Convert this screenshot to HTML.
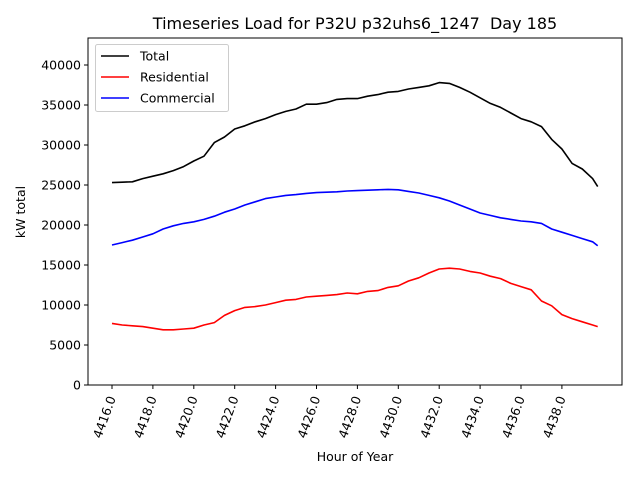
<!DOCTYPE html>
<html><head><meta charset="utf-8"><style>body{margin:0;background:#fff}svg{display:block;font-family:"DejaVu Sans","Liberation Sans",sans-serif}</style></head>
<body>
<svg id="chart" width="640" height="480" viewBox="0 0 640 480" xmlns="http://www.w3.org/2000/svg"></svg>
<script>
const hours = [4416,4416.5,4417,4417.5,4418,4418.5,4419,4419.5,4420,4420.5,4421,4421.5,4422,4422.5,4423,4423.5,4424,4424.5,4425,4425.5,4426,4426.5,4427,4427.5,4428,4428.5,4429,4429.5,4430,4430.5,4431,4431.5,4432,4432.5,4433,4433.5,4434,4434.5,4435,4435.5,4436,4436.5,4437,4437.5,4438,4438.5,4439,4439.5,4439.75];
const totalVals = [25300,25350,25400,25800,26100,26400,26800,27300,28000,28600,30300,31000,32000,32400,32900,33300,33800,34200,34500,35100,35100,35300,35700,35800,35800,36100,36300,36600,36700,37000,37200,37400,37800,37700,37200,36600,35900,35200,34700,34000,33300,32900,32300,30700,29500,27700,27000,25800,24800];
const resVals = [7700,7500,7400,7300,7100,6900,6900,7000,7100,7500,7800,8700,9300,9700,9800,10000,10300,10600,10700,11000,11100,11200,11300,11500,11400,11700,11800,12200,12400,13000,13400,14000,14500,14600,14500,14200,14000,13600,13300,12700,12300,11900,10500,9900,8800,8300,7900,7500,7300];
const comVals = [17500,17800,18100,18500,18900,19500,19900,20200,20400,20700,21100,21600,22000,22500,22900,23300,23500,23700,23800,23950,24050,24100,24150,24250,24300,24350,24400,24450,24400,24200,24000,23700,23400,23000,22500,22000,21500,21200,20900,20700,20500,20400,20200,19500,19100,18700,18300,17900,17400];
const xTicks = [4416,4418,4420,4422,4424,4426,4428,4430,4432,4434,4436,4438];
const xTickLabels = ["4416.0","4418.0","4420.0","4422.0","4424.0","4426.0","4428.0","4430.0","4432.0","4434.0","4436.0","4438.0"];
const yTicks = [0,5000,10000,15000,20000,25000,30000,35000,40000];
const yTickLabels = ["0","5000","10000","15000","20000","25000","30000","35000","40000"];

const L=88,R=622,T=38,B=385;
const X=h=>112+(h-4416)*20.45;
const Y=v=>385-v*0.008;
const svg=document.getElementById('chart');
const NS='http://www.w3.org/2000/svg';
function mk(tag,at,txt){const e=document.createElementNS(NS,tag);for(const k in at)e.setAttribute(k,at[k]);if(txt!==undefined)e.textContent=txt;svg.appendChild(e);return e;}

let t=mk('text',{x:355,y:29,'text-anchor':'middle','font-size':16,fill:'#000',style:'white-space:pre'},'Timeseries Load for P32U p32uhs6_1247  Day 185');



yTicks.forEach((v,i)=>{
  let l=mk('line',{x1:L-4,x2:L,y1:Y(v),y2:Y(v),stroke:'#000','stroke-width':1});
  
  
  let tx=mk('text',{x:L-7,y:Y(v)+4.5,'text-anchor':'end','font-size':12.5},yTickLabels[i]);
  
  
});
xTicks.forEach((h,i)=>{
  let l=mk('line',{x1:X(h),x2:X(h),y1:B,y2:B+4,stroke:'#000','stroke-width':1});
  
  
  let tx=mk('text',{x:X(h)+4,y:B+13,'text-anchor':'end','font-size':12.5,transform:`rotate(-70 ${X(h)+4} ${B+13})`},xTickLabels[i]);
  
  
});
let yl=mk('text',{x:25,y:212,'text-anchor':'middle','font-size':12.5,transform:'rotate(-90 25 212)'},'kW total');


let xl=mk('text',{x:355,y:461,'text-anchor':'middle','font-size':12.5},'Hour of Year');



function series(vals,color,name){
  const d=vals.map((v,i)=>(i?'L':'M')+X(hours[i]).toFixed(1)+','+Y(v).toFixed(1)).join(' ');
  let p=mk('path',{d:d,fill:'none',stroke:color,'stroke-width':1.6,'stroke-linejoin':'round'});
  
  
}
series(totalVals,'#000','total-line');
series(resVals,'#ff0000','residential-line');
series(comVals,'#0000ff','commercial-line');

let fr=mk('rect',{x:L,y:T,width:R-L,height:B-T,fill:'none',stroke:'#000','stroke-width':1});



let lg=mk('rect',{x:95.5,y:44.5,width:133,height:67,rx:2,fill:'#fff','fill-opacity':0.8,stroke:'#ccc'});


[['Total','#000'],['Residential','#ff0000'],['Commercial','#0000ff']].forEach((e,i)=>{
  const y=56+i*21;
  let l=mk('line',{x1:101,x2:129,y1:y,y2:y,stroke:e[1],'stroke-width':1.6});
  
  
  let tx=mk('text',{x:140,y:y+4.5,'font-size':12.5},e[0]);
  
  
});
</script>
</body></html>
